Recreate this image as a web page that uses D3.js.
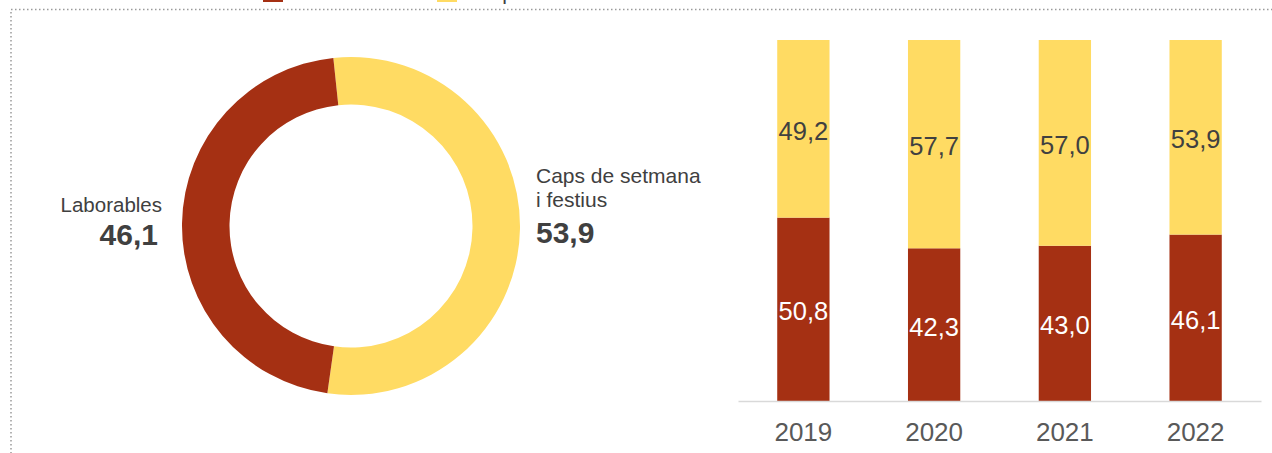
<!DOCTYPE html>
<html>
<head>
<meta charset="utf-8">
<script src="https://cdn.jsdelivr.net/npm/d3@7"></script>
<style>
  html, body { margin: 0; padding: 0; background: #fff; }
  svg { display: block; font-family: "Liberation Sans", Arial, sans-serif; }
</style>
</head>
<body>
<svg id="chart" width="1272" height="453"></svg>
<script>
// Share of the total: working days vs weekends and holidays
const seriesNames = ["Laborables", "Caps de setmana i festius"];
const seriesColors = ["#A53013", "#FFDB63"];

// Donut: latest year
const donutValues = [46.1, 53.9];
const donutLabels = ["46,1", "53,9"];

// Stacked bars by year
const years = ["2019", "2020", "2021", "2022"];
const laborables = [50.8, 42.3, 43.0, 46.1];
const capsFestius = [49.2, 57.7, 57.0, 53.9];

const fmt = v => v.toFixed(1).replace(".", ",");

const svg = d3.select("#chart");

// dotted frame
svg.append("rect")
  .attr("x", 11).attr("y", 9.5)
  .attr("width", 1300).attr("height", 500)
  .attr("fill", "none")
  .attr("stroke", "#9a9a9a")
  .attr("stroke-width", 1.5)
  .attr("stroke-dasharray", "1.5,2.5");

// legend (sits at the very top edge of the frame)
const legend = svg.append("g");
const legendX = [263, 437];
const legendTextX = [311, 475.5];
seriesNames.forEach((name, i) => {
  legend.append("rect")
    .attr("x", legendX[i]).attr("y", -18)
    .attr("width", 20).attr("height", 20)
    .attr("fill", seriesColors[i]);
  legend.append("text")
    .attr("x", legendTextX[i]).attr("y", 0.3)
    .attr("font-size", 21)
    .attr("fill", "#404040")
    .text(name);
});

// ---- donut ----
const cx = 351, cy = 226, rOuter = 169, rInner = 121.5;
const pie = d3.pie().sort(null)
  .startAngle(-6 * Math.PI / 180)
  .endAngle(354 * Math.PI / 180);
// yellow slice first (clockwise from just left of top), then red
const donutOrder = [1, 0];
const arcs = pie(donutOrder.map(i => donutValues[i]));
const arc = d3.arc().innerRadius(rInner).outerRadius(rOuter);
const donut = svg.append("g").attr("transform", `translate(${cx},${cy})`);
donut.selectAll("path")
  .data(arcs)
  .join("path")
  .attr("d", arc)
  .attr("fill", (d, j) => seriesColors[donutOrder[j]]);

// donut labels
const lab = svg.append("g").attr("fill", "#404040");
lab.append("text").attr("x", 162).attr("y", 211.5)
  .attr("text-anchor", "end").attr("font-size", 20.5).text(seriesNames[0]);
lab.append("text").attr("x", 158).attr("y", 245)
  .attr("text-anchor", "end").attr("font-size", 30).attr("font-weight", "bold")
  .text(donutLabels[0]);
lab.append("text").attr("x", 536).attr("y", 183)
  .attr("font-size", 21).text("Caps de setmana");
lab.append("text").attr("x", 536).attr("y", 206.5)
  .attr("font-size", 21).text("i festius");
lab.append("text").attr("x", 536).attr("y", 243)
  .attr("font-size", 30).attr("font-weight", "bold")
  .text(donutLabels[1]);

// ---- stacked bars ----
const x = d3.scaleBand().domain(years).range([738, 1261]).padding(0);
const y = d3.scaleLinear().domain([0, 100]).range([401, 40]);
const barW = x.bandwidth() * 0.4;

const rows = years.map((yr, i) => ({ year: yr, values: [laborables[i], capsFestius[i]] }));
const stack = d3.stack().keys([0, 1]).value((d, k) => d.values[k]);
const layers = stack(rows);

const bars = svg.append("g");
layers.forEach((layer, k) => {
  bars.selectAll(null)
    .data(layer)
    .join("rect")
    .attr("x", d => x(d.data.year) + (x.bandwidth() - barW) / 2)
    .attr("y", d => y(d[1]))
    .attr("width", barW)
    .attr("height", d => y(d[0]) - y(d[1]))
    .attr("fill", seriesColors[k]);
  bars.selectAll(null)
    .data(layer)
    .join("text")
    .attr("x", d => x(d.data.year) + x.bandwidth() / 2)
    .attr("y", d => (y(d[0]) + y(d[1])) / 2 + 11)
    .attr("text-anchor", "middle")
    .attr("font-size", 25.5)
    .attr("fill", k === 0 ? "#ffffff" : "#404040")
    .text(d => fmt(d.data.values[k]));
});

// category axis
const axis = svg.append("g").attr("transform", `translate(0,${y(0)})`)
  .call(d3.axisBottom(x).tickSize(0).tickPadding(22));
axis.select(".domain").attr("stroke", "#d9d9d9").attr("stroke-width", 1.5);
axis.selectAll("text")
  .attr("font-size", 26)
  .attr("fill", "#595959")
  .attr("font-family", "\"Liberation Sans\", Arial, sans-serif");
</script>
</body>
</html>
